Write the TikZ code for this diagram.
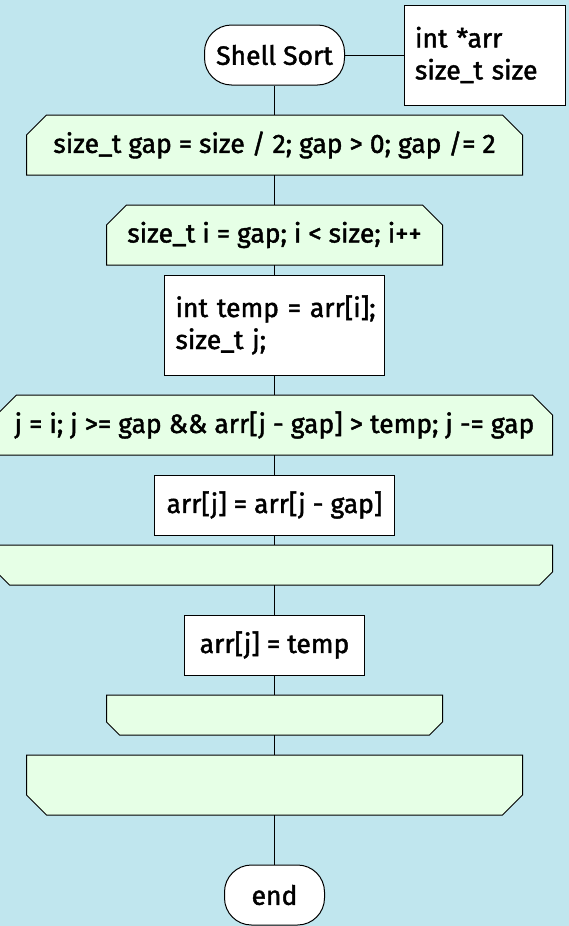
\documentclass[tikz,border=0pt]{standalone}
\usepackage{fontspec}
\setmainfont{Fira Sans}[FakeBold=1.6]
\usepackage{tikz}
\usetikzlibrary{backgrounds}
\definecolor{nsback}{HTML}{C0E6EE}
\definecolor{nsloop}{HTML}{E6FFE6}
\newcommand{\nsfont}{\fontsize{26.5}{32}\selectfont}
% loop outlines: head chamfered on top, tail chamfered below
\newcommand{\nshead}[2]{%
  \filldraw[loopline] (#1.south west) -- ([yshift=-#2]#1.north west) -- ([xshift=#2]#1.north west)
    -- ([xshift=-#2]#1.north east) -- ([yshift=-#2]#1.north east) -- (#1.south east) -- cycle;}
\newcommand{\nstail}[2]{%
  \filldraw[loopline] (#1.north west) -- (#1.north east) -- ([yshift=#2]#1.south east)
    -- ([xshift=-#2]#1.south east) -- ([xshift=#2]#1.south west) -- ([yshift=#2]#1.south west) -- cycle;}
\tikzset{
    flowline/.style={draw=black, line width=1pt},
    loopline/.style={draw=black, fill=nsloop, line width=1pt},
    term/.style={draw=black, fill=white, line width=1pt, rounded corners=27pt, minimum height=60pt, inner sep=0pt, font=\nsfont},
    stmt/.style={draw=black, fill=white, line width=1pt, minimum height=60pt, inner sep=0pt, font=\nsfont},
    loopbox/.style={minimum height=60pt, inner sep=0pt, outer sep=0pt, font=\nsfont}
}

\begin{document}
\begin{tikzpicture}[x=1pt, y=-1pt]
    \useasboundingbox (0,0) rectangle (569,926);

    \node[term, minimum width=140pt] (start) at (274.5,55) {Shell Sort};
    \node[stmt, minimum width=161pt, minimum height=100pt, inner xsep=11pt, text width=139pt, align=left] (params) at (484.5,55) {int *arr\\size\_t size};

    \node[loopbox, minimum width=496pt] (gaploop) at (274.5,145) {size\_t gap = size / 2; gap > 0; gap /= 2};
    \node[loopbox, minimum width=336pt] (iloop) at (274.5,235) {size\_t i = gap; i < size; i++};
    \node[stmt, minimum width=220pt, minimum height=100pt, inner xsep=11pt, text width=198pt, align=left] (init) at (274.5,325) {\mbox{int temp = arr[i];}\\size\_t j;};
    \node[loopbox, minimum width=556pt] (jloop) at (274.5,425) {j = i; j >= gap \&\& arr[j - gap] > temp; j -= gap};
    \node[stmt, minimum width=240pt] (shift) at (274.5,505) {arr[j] = arr[j - gap]};
    \node[loopbox, minimum width=556pt, minimum height=40pt] (jend) at (274.5,565) {};
    \node[stmt, minimum width=180pt] (store) at (274.5,645) {arr[j] = temp};
    \node[loopbox, minimum width=336pt, minimum height=40pt] (iend) at (274.5,715) {};
    \node[loopbox, minimum width=496pt] (gapend) at (274.5,785) {};
    \node[term, minimum width=100pt] (stop) at (274.5,895) {end};

    % connectors
    \draw[flowline] (start.east) -- (params.west);
    \draw[flowline] (start.south) -- (gaploop.north);
    \draw[flowline] (gaploop.south) -- (iloop.north);
    \draw[flowline] (iloop.south) -- (init.north);
    \draw[flowline] (init.south) -- (jloop.north);
    \draw[flowline] (jloop.south) -- (shift.north);
    \draw[flowline] (shift.south) -- (jend.north);
    \draw[flowline] (jend.south) -- (store.north);
    \draw[flowline] (store.south) -- (iend.north);
    \draw[flowline] (iend.south) -- (gapend.north);
    \draw[flowline] (gapend.south) -- (stop.north);

    \begin{scope}[on background layer]
        \fill[nsback] (0,0) rectangle (569,926);
        \nshead{gaploop}{20pt}
        \nshead{iloop}{20pt}
        \nshead{jloop}{20pt}
        \nstail{jend}{13pt}
        \nstail{iend}{13pt}
        \nstail{gapend}{20pt}
    \end{scope}
\end{tikzpicture}
\end{document}
